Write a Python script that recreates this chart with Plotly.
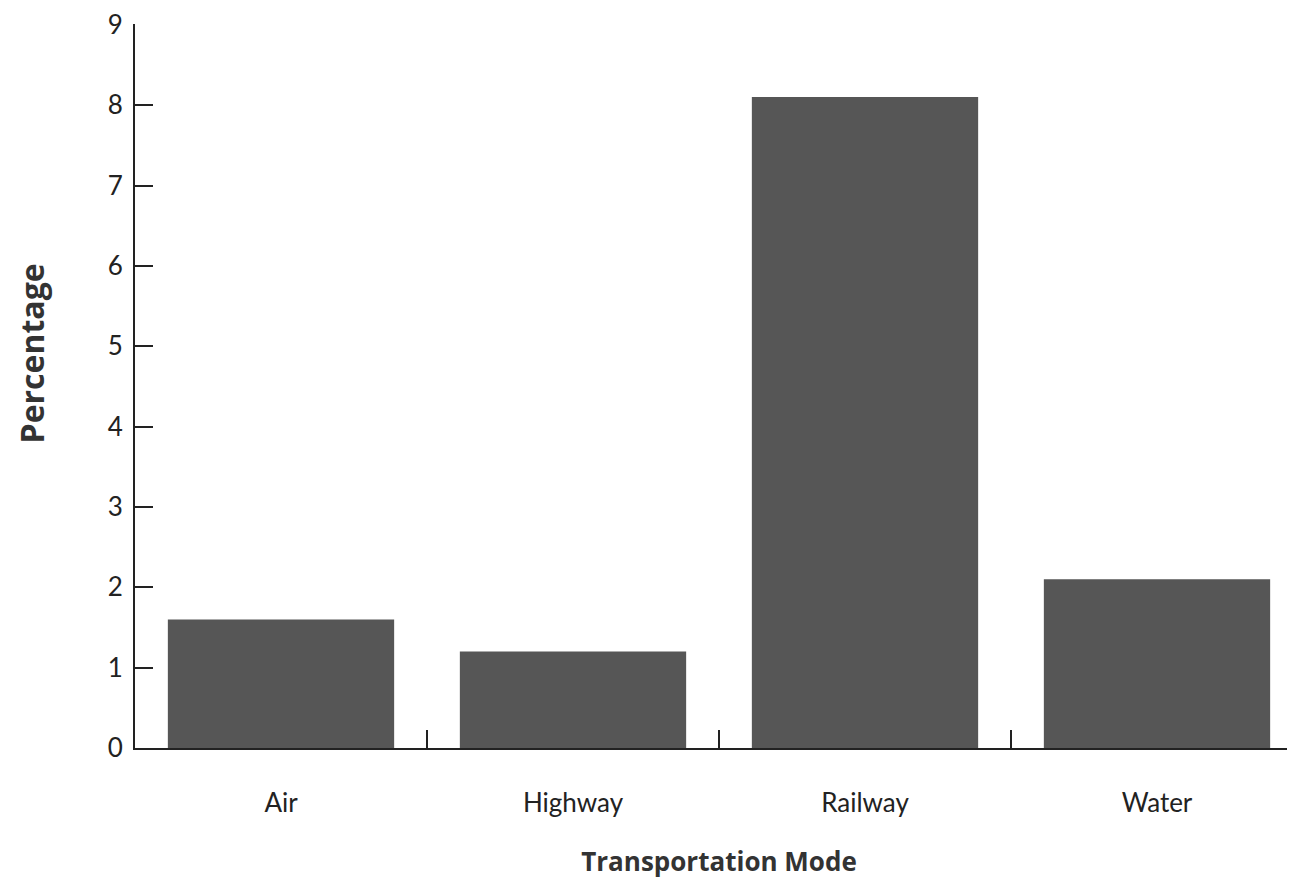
import plotly.graph_objects as go

categories = ["Air", "Highway", "Railway", "Water"]
percentages = [1.6, 1.2, 8.1, 2.1]
y_ticks = [0, 1, 2, 3, 4, 5, 6, 7, 8, 9]

fig = go.Figure(go.Bar(
    x=categories, y=percentages,
    marker=dict(color="#565656", line=dict(width=0)),
))

font_family = "Lato, 'Open Sans', sans-serif"
title_family = "'Open Sans', Lato, sans-serif"

fig.update_layout(
    width=1295, height=880,
    margin=dict(l=127, r=0, t=13, b=140),
    paper_bgcolor="white", plot_bgcolor="white",
    bargap=0.225,
    showlegend=False,
    font=dict(family=font_family, color="#222222", size=26),
    xaxis=dict(
        showline=True, linecolor="#222222", linewidth=2,
        ticks="inside", tickson="boundaries", ticklen=18, tickwidth=2, tickcolor="#222222",
        showgrid=False, zeroline=False,
        tickfont=dict(size=26), ticklabelstandoff=31,
        title=dict(text="<b>Transportation Mode</b>", font=dict(size=26, family=title_family, color="#333333"), standoff=36),
    ),
    yaxis=dict(
        range=[0, 9.01], tickvals=y_ticks,
        showline=True, linecolor="#222222", linewidth=2,
        ticks="inside", ticklen=18, tickwidth=2, tickcolor="#222222",
        showgrid=False, zeroline=False,
        tickfont=dict(size=26), ticklabelstandoff=5,
        ticklabeloverflow="allow",
    ),
    annotations=[dict(
        text="<b>Percentage</b>", textangle=-90,
        xref="paper", yref="paper", x=-0.089, y=0.545,
        xanchor="center", yanchor="middle", showarrow=False,
        font=dict(size=32, family=title_family, color="#333333"),
    )],
)

fig.write_html("out.html")
